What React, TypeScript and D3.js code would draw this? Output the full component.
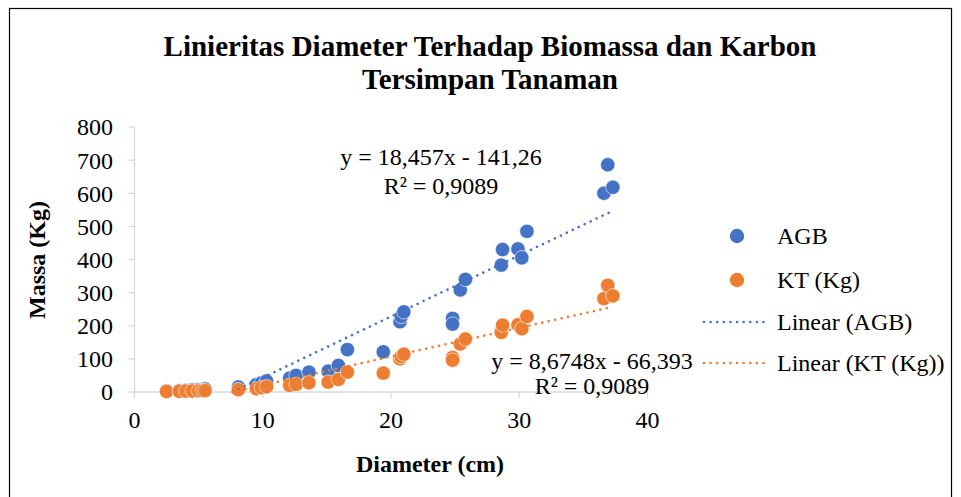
import React from "react";
import * as d3 from "d3";

const diameter = [2.5, 3.5, 4.0, 4.5, 5.0, 5.3, 5.5, 8.1, 9.5, 9.9, 10.3, 12.1, 12.6, 13.6, 15.1, 15.9, 16.6, 19.4, 20.7, 20.8, 21.0, 24.8, 24.8, 25.4, 25.8, 28.6, 28.7, 29.9, 30.2, 30.6, 36.6, 36.9, 37.3];
const agb = [3, 4, 5, 6, 7, 8, 9, 15, 22, 27, 33, 42, 50, 60, 63, 80, 128, 121, 212, 228, 242, 222, 205, 308, 340, 383, 430, 432, 405, 485, 600, 686, 618];
const kt = [1.5, 2, 2.5, 3, 3.5, 4, 4, 7, 10, 13, 16, 20, 23, 28, 30, 38, 60, 57, 100, 107, 114, 104, 96, 145, 160, 180, 202, 203, 191, 228, 282, 322, 290];

const xTicks = [0, 10, 20, 30, 40];
const yTicks = [0, 100, 200, 300, 400, 500, 600, 700, 800];
const trendAGB = [18.457, -141.26];
const trendKT = [8.6748, -66.393];
const legendLabels = ["AGB", "KT (Kg)", "Linear (AGB)", "Linear (KT (Kg))"];

const BLUE = "#4472C4";
const ORANGE = "#ED7D31";
const FONT = "'Liberation Serif', 'Times New Roman', serif";

export default function App() {
  const x = d3.scaleLinear().domain([0, 40]).range([134.5, 647.5]);
  const y = d3.scaleLinear().domain([0, 800]).range([392, 127]);
  const xMin = d3.min(diameter) as number;
  const xMax = d3.max(diameter) as number;

  const trend = (c: number[]) => {
    const x0 = Math.max(xMin, -c[1] / c[0]);
    const pts: [number, number][] = [
      [x0, c[0] * x0 + c[1]],
      [xMax, c[0] * xMax + c[1]],
    ];
    return d3.line<[number, number]>().x((d) => x(d[0])).y((d) => y(d[1]))(pts) as string;
  };

  const dotStyle = { strokeDasharray: "0.01 6.6", strokeLinecap: "round" as const, strokeWidth: 2.6 };

  return (
    <div style={{ position: "fixed", left: 0, top: 0 }}>
      <svg width={961} height={497} style={{ display: "block", background: "#fff" }} fontFamily={FONT}>
        <rect x={9.5} y={8.5} width={942} height={500} fill="#fff" stroke="#000" strokeWidth={1.2} />
        <text x={490} y={56} textAnchor="middle" fontSize={29} fontWeight="bold">Linieritas Diameter Terhadap Biomassa dan Karbon</text>
        <text x={490} y={89} textAnchor="middle" fontSize={29} fontWeight="bold">Tersimpan Tanaman</text>

        {/* axes */}
        <line x1={x(0)} x2={x(40)} y1={y(0)} y2={y(0)} stroke="#d9d9d9" strokeWidth={1.3} />
        <line x1={x(0)} x2={x(0)} y1={y(0)} y2={y(800)} stroke="#d9d9d9" strokeWidth={1.3} />
        {yTicks.map((t) => (
          <g key={"y" + t}>
            <line x1={x(0) - 6} x2={x(0)} y1={y(t)} y2={y(t)} stroke="#d9d9d9" strokeWidth={1.3} />
            <text x={113} y={y(t)} dy="0.35em" textAnchor="end" fontSize={24}>{t}</text>
          </g>
        ))}
        {xTicks.map((t) => (
          <g key={"x" + t}>
            <line x1={x(t)} x2={x(t)} y1={y(0)} y2={y(0) + 6} stroke="#d9d9d9" strokeWidth={1.3} />
            <text x={x(t)} y={428} textAnchor="middle" fontSize={24}>{t}</text>
          </g>
        ))}
        <text x={430} y={472} textAnchor="middle" fontSize={24} fontWeight="bold">Diameter (cm)</text>
        <text transform="translate(45,260) rotate(-90)" textAnchor="middle" fontSize={24} fontWeight="bold">Massa (Kg)</text>

        {/* points */}
        {diameter.map((d, i) => (
          <circle key={"a" + i} cx={x(d)} cy={y(agb[i])} r={7.2} fill={BLUE} stroke="#fff" strokeWidth={0.6} />
        ))}
        {diameter.map((d, i) => (
          <circle key={"k" + i} cx={x(d)} cy={y(kt[i])} r={7.2} fill={ORANGE} stroke="#fff" strokeWidth={0.6} />
        ))}

        {/* trendlines */}
        <path d={trend(trendAGB)} fill="none" stroke={BLUE} {...dotStyle} />
        <path d={trend(trendKT)} fill="none" stroke={ORANGE} {...dotStyle} />

        {/* equations */}
        <text x={441} y={165} textAnchor="middle" fontSize={24}>y = 18,457x - 141,26</text>
        <text x={441} y={194} textAnchor="middle" fontSize={24}>R² = 0,9089</text>
        <text x={592} y={369} textAnchor="middle" fontSize={24}>y = 8,6748x - 66,393</text>
        <text x={592} y={394} textAnchor="middle" fontSize={24}>R² = 0,9089</text>

        {/* legend */}
        <circle cx={737} cy={236} r={7.2} fill={BLUE} />
        <circle cx={737} cy={280} r={7.2} fill={ORANGE} />
        <line x1={704} x2={770} y1={322} y2={322} stroke={BLUE} {...dotStyle} />
        <line x1={704} x2={770} y1={363} y2={363} stroke={ORANGE} {...dotStyle} />
        {legendLabels.map((l, i) => (
          <text key={l} x={777} y={[236, 280, 322, 363][i]} dy="0.35em" fontSize={24}>{l}</text>
        ))}
      </svg>
    </div>
  );
}
